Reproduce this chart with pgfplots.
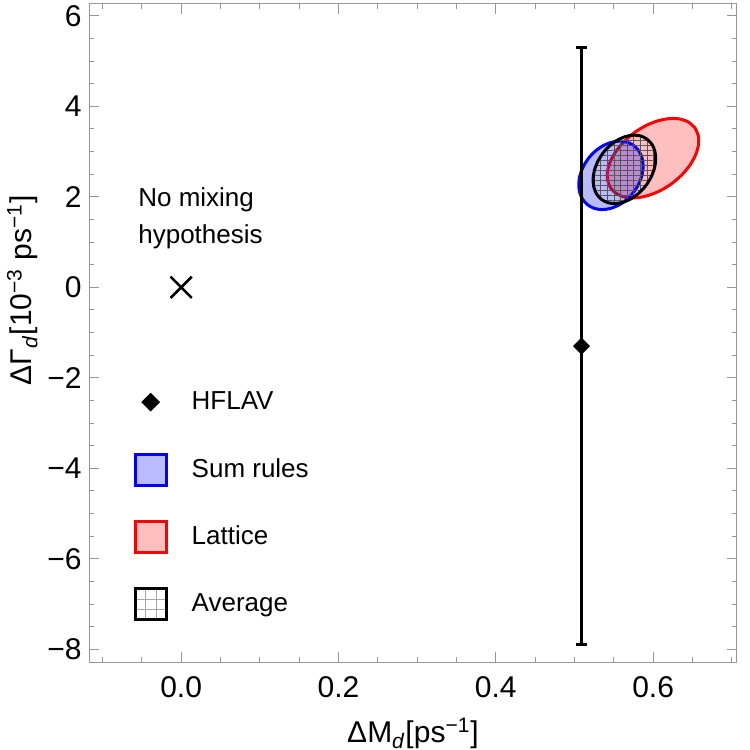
\documentclass[border=0pt]{standalone}
\usepackage{fontspec}
\setmainfont{Liberation Sans}
\usepackage{pgfplots}
\pgfplotsset{compat=1.18}
\usetikzlibrary{patterns.meta}
\definecolor{framegray}{RGB}{150,150,150}
\definecolor{hatchgray}{RGB}{85,85,85}
\begin{document}
\begin{tikzpicture}
\begin{axis}[
  scale only axis, width=323.5pt, height=329pt,
  xmin=-0.1165, xmax=0.706, ymin=-8.28, ymax=6.26,
  axis line style={framegray, line width=0.5pt},
  tick style={framegray, line width=0.5pt},
  tick align=inside, tick pos=both,
  major tick length=5pt, minor tick length=2.5pt,
  xtick={0,0.2,0.4,0.6}, xticklabels={0.0,0.2,0.4,0.6},
  ytick={-8,-6,-4,-2,0,2,4,6}, yticklabels={−8,−6,−4,−2,0,2,4,6},
  minor xtick={-0.1,-0.05,0.05,0.1,0.15,0.25,0.3,0.35,0.45,0.5,0.55,0.65,0.7},
  minor ytick={-7.5,-7,-6.5,-5.5,-5,-4.5,-3.5,-3,-2.5,-1.5,-1,-0.5,0.5,1,1.5,2.5,3,3.5,4.5,5,5.5},
  tick label style={font=\fontsize{15}{18}\selectfont, inner sep=0pt},
  xticklabel style={yshift=-7pt},
  yticklabel style={xshift=-3.75pt},
  xlabel={ΔM\textsubscript{\textit{d}}[ps\textsuperscript{−1}]},
  ylabel={ΔΓ\textsubscript{\textit{d}}[10\textsuperscript{−3} ps\textsuperscript{−1}]},
  every axis x label/.style={at={(axis description cs:0.5,-0.123)}, anchor=base, font=\fontsize{15}{18}\selectfont},
  every axis y label/.style={at={(axis description cs:-0.0889,0.565)}, rotate=90, anchor=base, font=\fontsize{15}{18}\selectfont},
  legend style={at={(0.0677,0.4214)}, anchor=north west, draw=none, fill=none, inner sep=0pt,
    row sep=16.7pt, column sep=12pt, font=\fontsize{13}{15.6}\selectfont, nodes={inner sep=0pt}},
  legend cell align=left,
]
% Lattice
\addplot[draw=red, line width=1.5pt, fill=red, fill opacity=0.25, smooth, forget plot] coordinates {
(0.6531,3.525) (0.6451,3.649) (0.6341,3.718) (0.6208,3.728) (0.6060,3.678) (0.5908,3.573)
(0.5762,3.418) (0.5633,3.225) (0.5528,3.006) (0.5455,2.777) (0.5419,2.553) (0.5423,2.350)
(0.5465,2.181) (0.5545,2.058) (0.5655,1.988) (0.5788,1.978) (0.5936,2.028) (0.6088,2.133)
(0.6234,2.288) (0.6363,2.481) (0.6468,2.700) (0.6541,2.929) (0.6577,3.153) (0.6573,3.356) (0.6531,3.525)};
% Sum rules
\addplot[draw=blue, line width=1.5pt, fill=blue, fill opacity=0.27, smooth, forget plot] coordinates {
(0.5763,3.121) (0.5680,3.200) (0.5583,3.229) (0.5478,3.207) (0.5371,3.135) (0.5271,3.018)
(0.5184,2.863) (0.5117,2.682) (0.5072,2.487) (0.5055,2.291) (0.5065,2.107) (0.5103,1.948)
(0.5165,1.825) (0.5248,1.746) (0.5345,1.717) (0.5450,1.739) (0.5557,1.811) (0.5657,1.928)
(0.5744,2.083) (0.5812,2.264) (0.5856,2.459) (0.5873,2.655) (0.5863,2.839) (0.5825,2.998) (0.5763,3.121)};
% Average (hatched)
\addplot[draw=none, pattern={Lines[angle=0,distance=2.5pt,line width=0.3pt]}, pattern color=hatchgray, smooth, forget plot] coordinates {
(0.5926,3.271) (0.5846,3.342) (0.5751,3.362) (0.5649,3.331) (0.5545,3.251) (0.5448,3.126)
(0.5363,2.967) (0.5297,2.782) (0.5254,2.586) (0.5237,2.391) (0.5247,2.210) (0.5283,2.057)
(0.5344,1.941) (0.5424,1.870) (0.5519,1.850) (0.5621,1.881) (0.5725,1.961) (0.5822,2.086)
(0.5907,2.245) (0.5973,2.430) (0.6016,2.626) (0.6033,2.821) (0.6023,3.002) (0.5987,3.155) (0.5926,3.271)};
\addplot[draw=black, line width=1.5pt, pattern={Lines[angle=90,distance=3.3pt,line width=0.3pt]}, pattern color=hatchgray, smooth, forget plot] coordinates {
(0.5926,3.271) (0.5846,3.342) (0.5751,3.362) (0.5649,3.331) (0.5545,3.251) (0.5448,3.126)
(0.5363,2.967) (0.5297,2.782) (0.5254,2.586) (0.5237,2.391) (0.5247,2.210) (0.5283,2.057)
(0.5344,1.941) (0.5424,1.870) (0.5519,1.850) (0.5621,1.881) (0.5725,1.961) (0.5822,2.086)
(0.5907,2.245) (0.5973,2.430) (0.6016,2.626) (0.6033,2.821) (0.6023,3.002) (0.5987,3.155) (0.5926,3.271)};
% HFLAV
\addplot[black, only marks, mark=square*, mark size=2.83pt, mark options={rotate=45, black, solid}, forget plot,
  error bars/.cd, y dir=both, y explicit,
  error bar style={line width=1.6pt, black},
  error mark=-,
  error mark options={rotate=90, line width=1.6pt, mark size=2.6pt, black}]
  coordinates {(0.509,-1.3) +- (0,6.6)};
% No mixing hypothesis
\addplot[black, only marks, mark=x, mark size=7.5pt, mark options={line width=1.3pt}, forget plot] coordinates {(0,0)};
\node[anchor=base west, inner sep=0pt, font=\fontsize{13}{15.6}\selectfont] at (axis cs:-0.0549,1.783) {No mixing};
\node[anchor=base west, inner sep=0pt, font=\fontsize{13}{15.6}\selectfont] at (axis cs:-0.0549,0.958) {hypothesis};
% legend
\addlegendimage{legend image code/.code={\path[draw=none,fill=none] (0pt,-8.5pt) rectangle (17pt,8.5pt);
  \fill[black] (8.5pt,4.4pt) -- (12.9pt,0pt) -- (8.5pt,-4.4pt) -- (4.1pt,0pt) -- cycle;}}
\addlegendentry{HFLAV}
\addlegendimage{legend image code/.code={\path[draw=none,fill=none] (0pt,-8.5pt) rectangle (17pt,8.5pt);
  \draw[draw=blue, fill=blue, fill opacity=0.27, line width=1.5pt] (0.75pt,-7.75pt) rectangle (16.25pt,7.75pt);}}
\addlegendentry{Sum rules}
\addlegendimage{legend image code/.code={\path[draw=none,fill=none] (0pt,-8.5pt) rectangle (17pt,8.5pt);
  \draw[draw=red, fill=red, fill opacity=0.25, line width=1.5pt] (0.75pt,-7.75pt) rectangle (16.25pt,7.75pt);}}
\addlegendentry{Lattice}
\addlegendimage{legend image code/.code={\path[draw=none,fill=none] (0pt,-8.5pt) rectangle (17pt,8.5pt);
  \draw[gray!70, line width=0.4pt] (5.9pt,-7.75pt) -- (5.9pt,7.75pt) (11.1pt,-7.75pt) -- (11.1pt,7.75pt)
     (0.75pt,-2.6pt) -- (16.25pt,-2.6pt) (0.75pt,2.6pt) -- (16.25pt,2.6pt);
  \draw[black, fill=none, line width=1.5pt] (0.75pt,-7.75pt) rectangle (16.25pt,7.75pt);}}
\addlegendentry{Average}
\end{axis}
\pgfresetboundingbox
\path[use as bounding box] ([shift={(-44.75pt,-44pt)}]current axis.south west) rectangle ([shift={(6.6pt,2pt)}]current axis.north east);
\end{tikzpicture}
\end{document}
